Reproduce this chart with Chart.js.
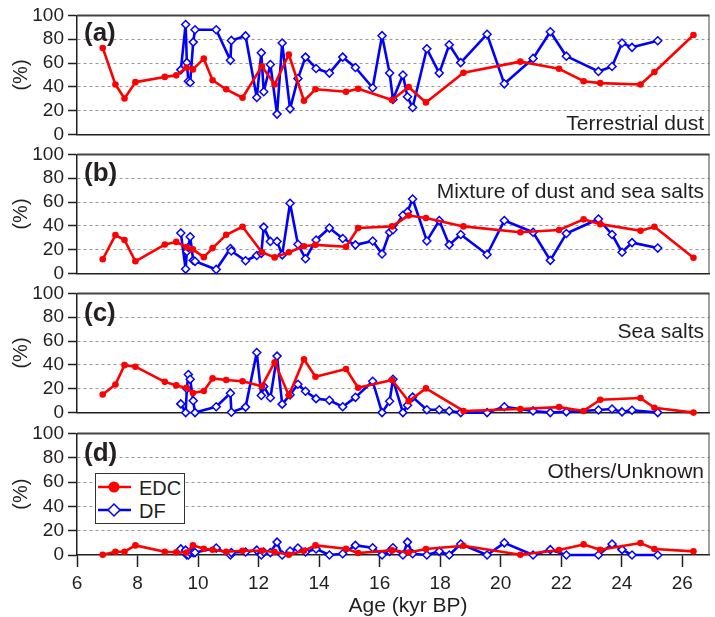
<!DOCTYPE html>
<html><head><meta charset="utf-8">
<script src="https://cdn.jsdelivr.net/npm/chart.js@4.4.0/dist/chart.umd.min.js"></script>
<style>
html,body{margin:0;padding:0;background:#fff;}
#wrap{position:relative;width:715px;height:617px;overflow:hidden;font-family:"Liberation Sans",Arial,Helvetica,sans-serif;color:#231f20;}
canvas{position:absolute;left:0;}
.plab{position:absolute;left:84px;font-weight:bold;font-size:26px;line-height:26px;}
.ptxt{position:absolute;right:11px;font-size:21px;line-height:21px;white-space:nowrap;}
#xtitle{position:absolute;left:308px;width:200px;text-align:center;top:594px;font-size:21px;line-height:21px;}
#legend{position:absolute;left:95px;top:473px;width:88px;height:49px;border:1.5px solid #333;background:#fff;}
#legend .lt{position:absolute;left:43px;font-size:20px;line-height:20px;}
</style></head><body><div id="wrap">
<canvas id="ca" width="715" height="150" style="top:0px"></canvas>
<canvas id="cb" width="715" height="150" style="top:139px"></canvas>
<canvas id="cc" width="715" height="150" style="top:278px"></canvas>
<canvas id="cd" width="715" height="199" style="top:418px"></canvas>
<div class="plab" id="la" style="top:19px"></div>
<div class="plab" id="lb" style="top:159px"></div>
<div class="plab" id="lc" style="top:299px"></div>
<div class="plab" id="ld" style="top:439px"></div>
<div class="ptxt" id="na" style="top:112px"></div>
<div class="ptxt" id="nb" style="top:180px"></div>
<div class="ptxt" id="nc" style="top:320px"></div>
<div class="ptxt" id="nd" style="top:460px"></div>
<div id="xtitle">Age (kyr BP)</div>
<div id="legend">
 <svg width="40" height="49" style="position:absolute;left:0;top:0">
  <line x1="2" y1="13" x2="35" y2="13" stroke="#fe0000" stroke-width="2.5"/>
  <circle cx="18" cy="13" r="5.5" fill="#fe0000"/>
  <line x1="2" y1="36" x2="35" y2="36" stroke="#0000fe" stroke-width="2.5"/>
  <polygon points="18,30 24,36 18,42 12,36" fill="#fff" stroke="#0000fe" stroke-width="1.5"/>
 </svg>
 <div class="lt" style="top:4px">EDC</div>
 <div class="lt" style="top:27px">DF</div>
</div>
</div>
<script>
// ---- data ----
const xTicks = [6, 8, 10, 12, 14, 16, 18, 20, 22, 24, 26];
const yTicks = [0, 20, 40, 60, 80, 100];
const panelLabels = ["(a)", "(b)", "(c)", "(d)"];
const panelNames = ["Terrestrial dust", "Mixture of dust and sea salts", "Sea salts", "Others/Unknown"];

const edcAge = [6.85, 7.27, 7.57, 7.93, 8.9, 9.28, 9.62, 9.83, 10.19, 10.48, 10.93, 11.47, 12.11, 12.53, 13.0,
  13.5, 13.88, 14.89, 15.29, 16.41, 16.96, 17.53, 18.77, 20.65, 21.93, 22.74, 23.29, 24.62, 25.08, 26.37];
const edcDust = [72.7, 42, 30.3, 44, 48.4, 49.7, 56.3, 54.7, 63.7, 45.6, 38, 30.9, 57.4, 42, 67.2,
  28.4, 38, 36, 38.5, 29, 39.9, 27, 51.9, 61.2, 55.2, 44.8, 43.2, 42, 52.5, 83.6];
const edcMix = [12, 32.3, 28.2, 10.3, 24.4, 26.6, 22.2, 20.3, 13.8, 21.4, 32.5, 39.3, 17.9, 13.6, 17.9,
  23, 24.1, 22.5, 38.2, 39.6, 48.8, 46.6, 39.6, 34.7, 36.6, 45.5, 41.5, 36, 39.3, 13.3];
const edcSalt = [15.2, 23.6, 39.8, 38.5, 25.8, 22.8, 20.9, 16.5, 18.1, 28.7, 27.4, 26.3, 22.2, 42.3, 14.4,
  44.7, 30.1, 36.6, 20.9, 27.4, 9.5, 20.3, 1.4, 3, 4.6, 1.4, 10.8, 12.2, 4.1, 0];
const edcOther = [0.2, 2.7, 2.7, 7.9, 2.7, 2.2, 2, 8, 5.2, 4.3, 2.7, 3.5, 3.5, 2.5, 0.2,
  3.5, 7.9, 5.2, 1.6, 3.8, 2.1, 4.9, 7.6, 0.2, 4.1, 8.7, 4.3, 9.8, 4.9, 3];

const dfAge = [9.43, 9.59, 9.63, 9.68, 9.74, 9.84, 9.9, 10.6, 11.07, 11.1, 11.57, 11.94, 12.09, 12.17, 12.39,
  12.61, 12.78, 13.04, 13.3, 13.55, 13.9, 14.34, 14.78, 15.2, 15.77, 16.08, 16.33, 16.44, 16.77, 16.92,
  17.09, 17.56, 17.97, 18.3, 18.68, 19.55, 20.12, 21.07, 21.64, 22.17, 23.23, 23.68, 24.01, 24.34, 25.19];
const dfDust = [54.3, 92.4, 60.4, 44.8, 43.7, 77.6, 88, 88, 62.3, 79, 82.8, 31.1, 68.6, 36, 58.8,
  17.2, 76.8, 21.6, 47, 65, 55.5, 51.6, 65, 56.3, 39.3, 83, 51.6, 29.5, 50, 31.7,
  22.7, 72, 51.6, 75.4, 60.4, 84.2, 42.6, 63.9, 86.3, 65.8, 53, 57.1, 76.8, 73.2, 78.7];
const dfMix = [34.1, 3.8, 18.5, 22, 30.9, 11.1, 10.3, 3.5, 21.1, 19, 10.8, 15.2, 17, 39, 27,
  27, 15.7, 59, 24.6, 12.5, 28.2, 38.2, 29.5, 24.1, 27.4, 16.5, 34.7, 36.8, 49, 51.8,
  62.6, 27.4, 44.5, 24.1, 32.8, 16, 44.5, 34.7, 11.1, 33.6, 45.8, 32.8, 17.9, 26, 21.4];
const dfSalt = [7.3, 0, 20, 32, 27.9, 10, 0, 4.9, 16.3, 0.3, 4.6, 50.4, 14.4, 22, 12.5,
  47.4, 7.1, 14.9, 23.8, 17.9, 11.7, 10.3, 4.9, 12.8, 26.3, 0, 9.5, 27.9, 0, 6.2,
  13, 2.4, 2.4, 1.3, 0, 0, 4.9, 1.4, 0, 0.6, 2.2, 3, 0.6, 2, 0];
const dfOther = [5, 4, 0, 0, 2, 2, 2, 5.7, 0, 2, 2.5, 4, 0, 2.5, 2,
  10.6, 0, 3.3, 5.7, 2.5, 5, 0, 1, 7.9, 6, 0, 3, 6, 0, 10.6,
  1, 0, 3, 0, 9, 0, 10, 0, 4.4, 0, 0, 9, 4.4, 0, 0];

// ---- text ----
['la', 'lb', 'lc', 'ld'].forEach((id, i) => { document.getElementById(id).textContent = panelLabels[i]; });
['na', 'nb', 'nc', 'nd'].forEach((id, i) => { document.getElementById(id).textContent = panelNames[i]; });

// ---- styling ----
const RED = '#fe0000', BLUE = '#0000fe', INK = '#231f20';
const FONT = '"Liberation Sans", Arial, Helvetica, sans-serif';
const pts = (xs, ys) => xs.map((x, i) => ({x: x, y: ys[i]}));

const framePlugin = {
  id: 'frame',
  afterDraw(chart) {
    const {ctx, chartArea: {left, right, top, bottom}} = chart;
    ctx.save();
    ctx.strokeStyle = '#444';
    ctx.lineWidth = 2;
    ctx.beginPath(); ctx.moveTo(left, top); ctx.lineTo(right, top); ctx.stroke();
    ctx.lineWidth = 1;
    ctx.beginPath(); ctx.moveTo(right - 0.5, top); ctx.lineTo(right - 0.5, bottom); ctx.stroke();
    ctx.restore();
  }
};

function makePanel(id, edcVals, dfVals, padTop, xh, showX) {
  new Chart(document.getElementById(id), {
    type: 'line',
    data: {
      datasets: [
        {label: 'EDC', data: pts(edcAge, edcVals), borderColor: RED, backgroundColor: RED,
         pointBackgroundColor: RED, pointBorderColor: RED, pointStyle: 'circle', pointRadius: 3.3,
         pointBorderWidth: 0, borderWidth: 2.6, tension: 0, clip: false,
         borderJoinStyle: 'round', borderCapStyle: 'round'},
        {label: 'DF', data: pts(dfAge, dfVals), borderColor: BLUE, backgroundColor: BLUE,
         pointBackgroundColor: '#ffffff', pointBorderColor: BLUE, pointStyle: 'rectRot', pointRadius: 4,
         pointBorderWidth: 1.5, borderWidth: 2.6, tension: 0, clip: false,
         borderJoinStyle: 'round', borderCapStyle: 'round'}
      ]
    },
    options: {
      responsive: false, animation: false, devicePixelRatio: 1,
      layout: {padding: {top: padTop, right: 3, left: 0, bottom: 0}},
      plugins: {legend: {display: false}, tooltip: {enabled: false}},
      scales: {
        x: {
          type: 'linear', min: 6, max: 26.9,
          afterBuildTicks: s => { s.ticks = xTicks.map(v => ({value: v})); },
          afterFit: s => { s.height = xh; },
          ticks: {display: showX, font: {family: FONT, size: 19}, color: INK, padding: 5, maxRotation: 0, autoSkip: false},
          grid: {display: showX, drawOnChartArea: false, tickLength: 12, tickColor: INK, tickWidth: 1.5},
          border: {display: true, color: INK, width: 1.5}
        },
        y: {
          min: 0, max: 100,
          afterBuildTicks: s => { s.ticks = yTicks.map(v => ({value: v})); },
          afterFit: s => { s.width = 77; },
          ticks: {font: {family: FONT, size: 19}, color: INK, padding: 4, autoSkip: false},
          grid: {
            color: c => (c.tick && (c.tick.value === 0 || c.tick.value === 100)) ? 'rgba(0,0,0,0)' : '#9a9a9a',
            lineWidth: 1, tickLength: 9, tickColor: INK, tickWidth: 1.5
          },
          border: {display: true, color: INK, width: 1.5, dash: [3, 3]},
          title: {display: true, text: '(%)', font: {family: FONT, size: 20}, color: INK, padding: {top: 9, bottom: 0}}
        }
      }
    },
    plugins: [framePlugin]
  });
}

makePanel('ca', edcDust, dfDust, 15, 13, false);
makePanel('cb', edcMix, dfMix, 15, 12, false);
makePanel('cc', edcSalt, dfSalt, 15, 12, false);
makePanel('cd', edcOther, dfOther, 15, 62, true);
</script>
</body></html>
